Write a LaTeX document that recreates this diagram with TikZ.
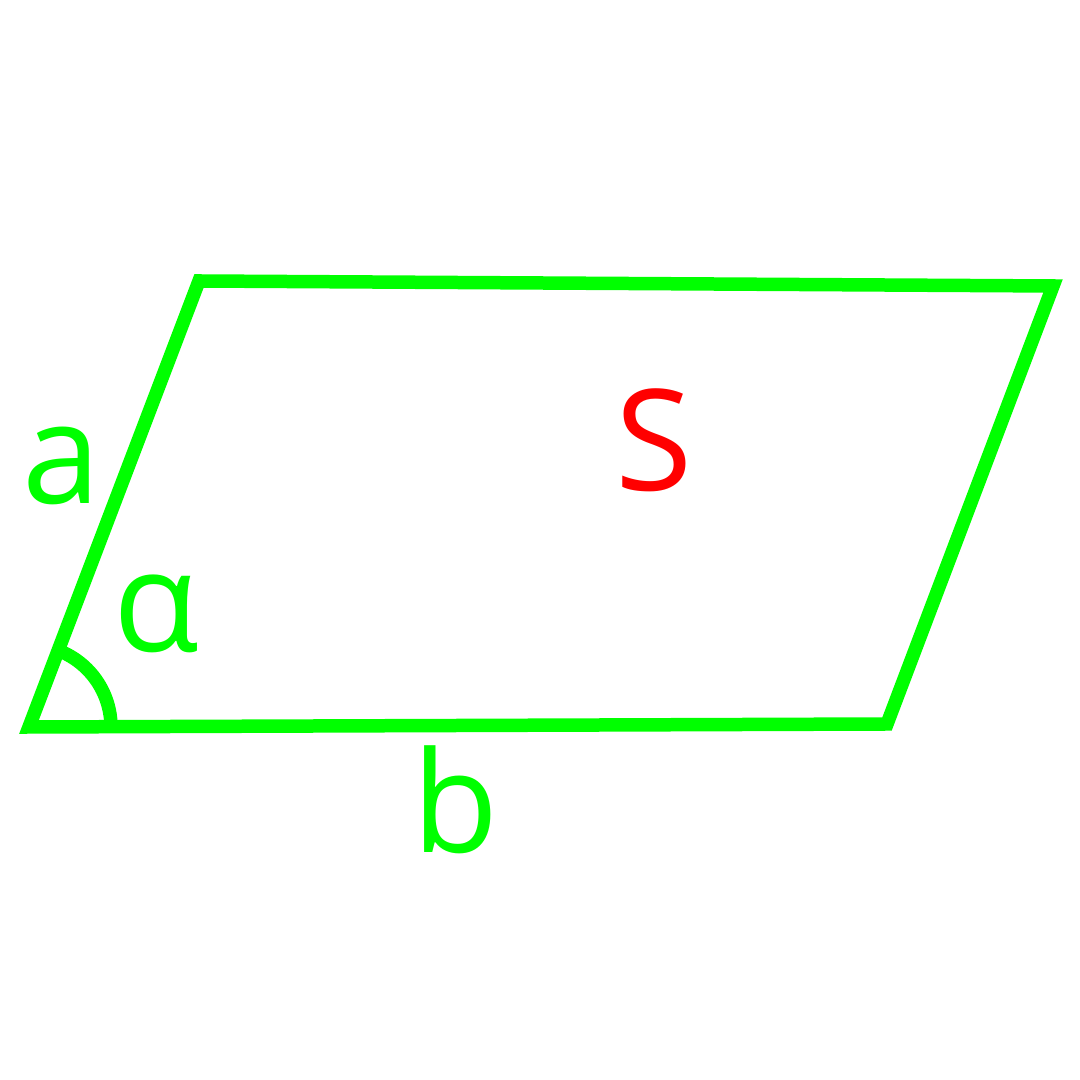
\documentclass[tikz,border=0pt]{standalone}
\usepackage{fontspec}
\setmainfont{Open Sans}
\usepackage{xcolor}
\usetikzlibrary{calc}
\definecolor{lgreen}{RGB}{0,255,0}
\definecolor{sred}{RGB}{255,0,0}

\begin{document}
\begin{tikzpicture}[
    edge/.style={draw=lgreen, line width=0.135cm, line join=miter},
    lbl/.style={text=lgreen, font=\fontsize{40}{48}\selectfont, inner sep=0pt},
    area/.style={text=sred, font=\fontsize{40}{48}\selectfont, inner sep=0pt},
]
    \useasboundingbox (0,0) rectangle (10.8,10.8);

    \coordinate (A) at (0.29, 3.53);
    \coordinate (B) at (8.87, 3.56);
    \coordinate (C) at (10.53, 7.94);
    \coordinate (D) at (1.99, 7.99);

    \draw[edge] (A) -- (B) -- (C) -- (D) -- cycle;
    \draw[edge] ($(A)+(0:0.82)$) arc[start angle=0, end angle=69, radius=0.82];

    \node[lbl] (a) at (0.62, 6.14) {a};
    \node[lbl] (alpha) at (1.56, 4.66) {α};
    \node[lbl] (b) at (4.56, 2.80) {b};
    \node[area] (S) at (6.54, 6.40) {S};
\end{tikzpicture}
\end{document}
